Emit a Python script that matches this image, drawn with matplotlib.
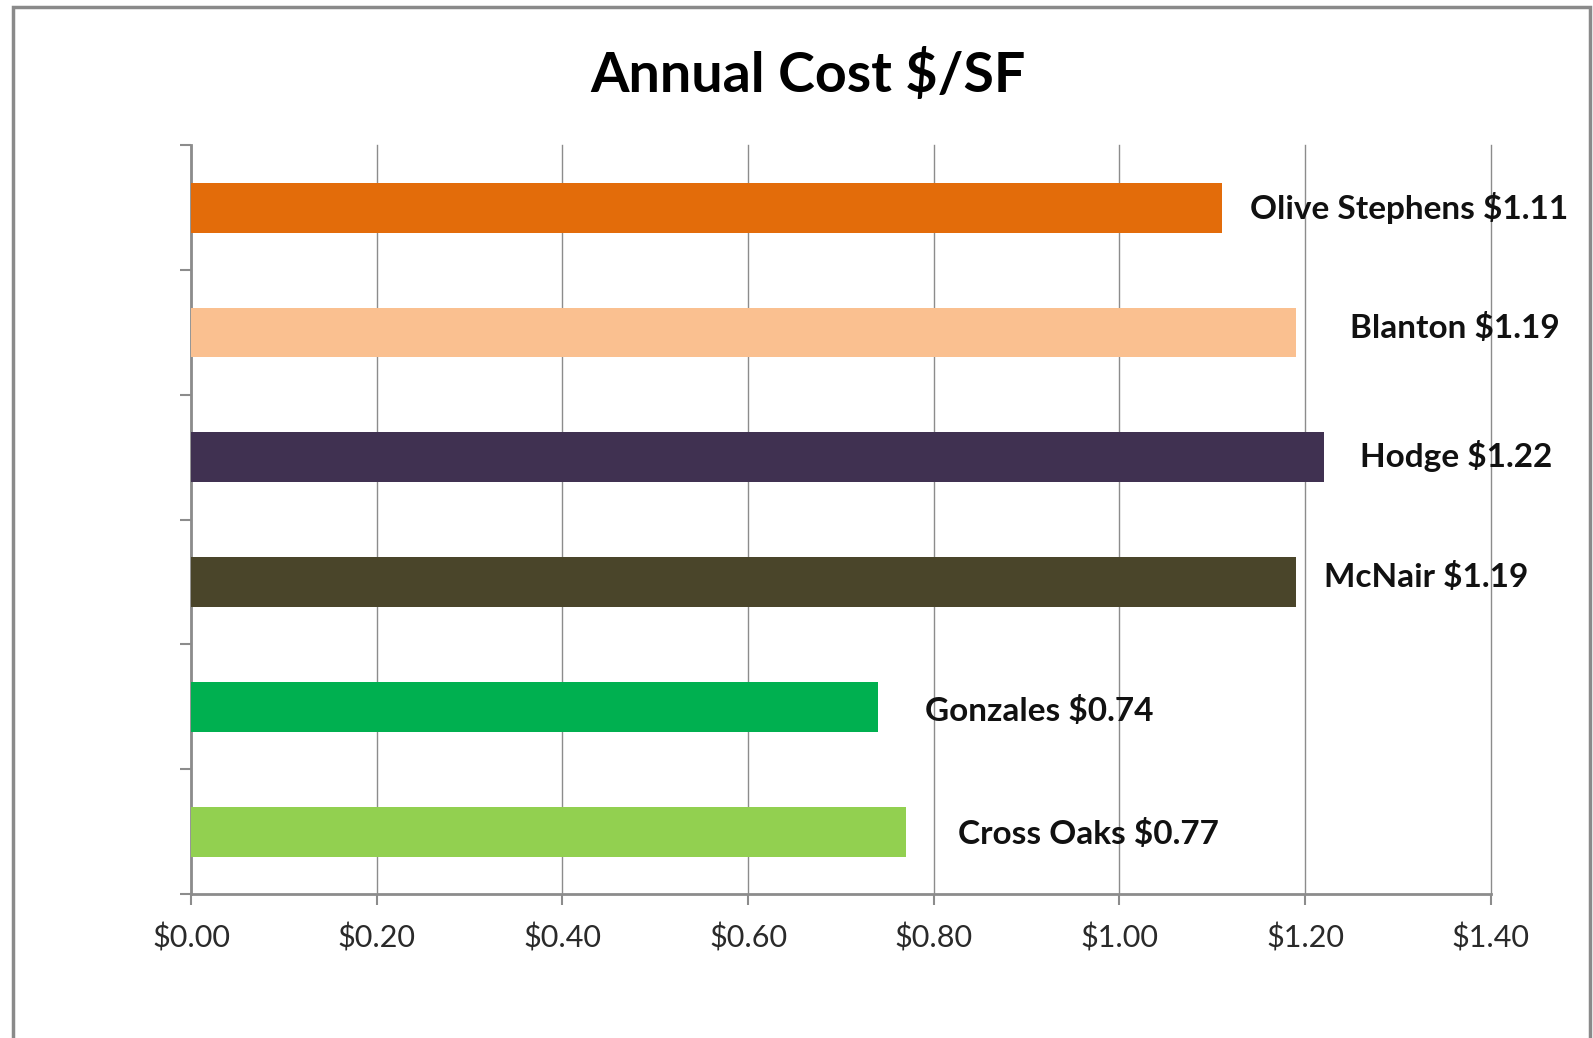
import matplotlib.pyplot as plt
from matplotlib.patches import Rectangle

schools = ["Olive Stephens", "Blanton", "Hodge", "McNair", "Gonzales", "Cross Oaks"]
cost = [1.11, 1.19, 1.22, 1.19, 0.74, 0.77]
colors = ["#E36C0A", "#FAC090", "#403151", "#4A452A", "#00B050", "#92D050"]
xticks = [0.0, 0.2, 0.4, 0.6, 0.8, 1.0, 1.2, 1.4]
# label offsets from bar end (pixels right, pixels down)
lab_dx = [28, 54, 36, 28, 47, 52]
lab_dy = [0, -4, -1, -5, 4, 2]

plt.rcParams['font.family'] = ['Lato', 'DejaVu Sans']
fig = plt.figure(figsize=(15.93, 10.38), dpi=100)
ax = fig.add_axes([0.1199, 0.1387, 0.816, 0.7213])

y = list(range(len(schools)))
ax.barh(y, cost, height=0.4, color=colors, zorder=3)
ax.set_ylim(len(schools) - 0.5, -0.5)
ax.set_xlim(0, 1.4)

px = 72 / 100
for i in range(len(schools)):
    ax.annotate("%s $%.2f" % (schools[i], cost[i]), (cost[i], y[i]),
                xytext=(lab_dx[i] * px, -lab_dy[i] * px), textcoords="offset points",
                ha="left", va="center", fontsize=24, fontweight="bold", color="#111111", zorder=4)

ax.set_xticks(xticks)
ax.set_xticklabels(["$%.2f" % v for v in xticks], fontsize=22, color="#2a2a2a")
ax.set_yticks([i - 0.5 for i in range(len(schools) + 1)])
ax.set_yticklabels([])
ax.tick_params(axis="both", direction="out", length=8, width=1.5, color="#8c8c8c")
ax.tick_params(axis="x", pad=13)
ax.grid(axis="x", color="#8c8c8c", linewidth=1, zorder=0)
for gl in ax.get_xgridlines():
    gl.set_clip_on(False)
for s in ["top", "right"]:
    ax.spines[s].set_visible(False)
for s in ["left", "bottom"]:
    ax.spines[s].set_color("#8c8c8c")
    ax.spines[s].set_linewidth(2)

fig.text(0.507, 0.928, "Annual Cost $/SF", ha="center", va="center", fontsize=40, fontweight="bold")

# outer chart border
fig.patches.append(Rectangle((13 / 1593, -0.02), (1590 - 13) / 1593, 1.02 - 7 / 1038,
                             transform=fig.transFigure, fill=False, edgecolor="#8a8a8a", linewidth=2.5))

fig.savefig("out.png", dpi=100)
